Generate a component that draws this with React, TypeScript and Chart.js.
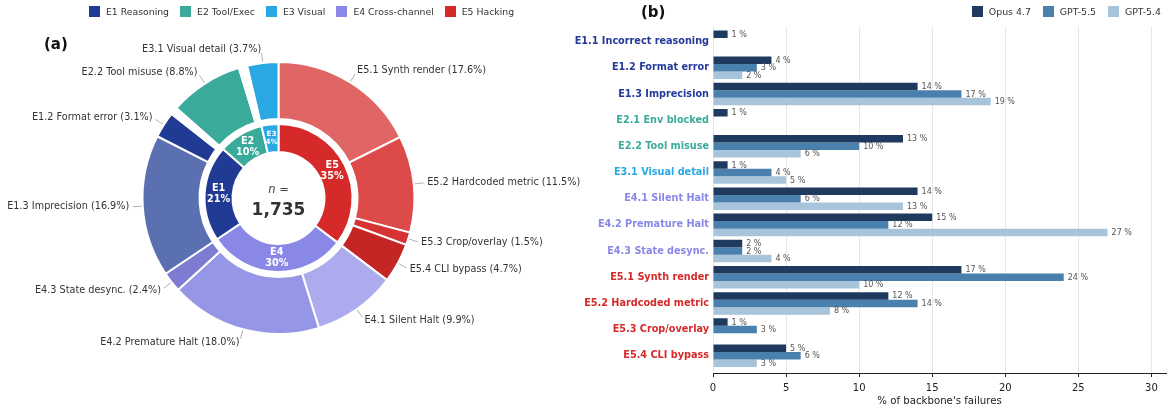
import React, { useEffect, useRef } from 'react';
import { Chart, registerables } from 'chart.js';

Chart.register(...registerables);

const FONT = "'DejaVu Sans', Verdana, sans-serif";
Chart.defaults.font.family = FONT;

// ---------- (a) donut data ----------
const innerLabels = ['E5', 'E4', 'E1', 'E2', 'E3'];
const innerValues = [35.3, 30.3, 20.9, 9.8, 3.7];
const innerColors = ['#d62a2a', '#8a88e6', '#213a93', '#3aaa9a', '#29a8e3'];

const outerLabels = [
  'E5.1 Synth render',
  'E5.2 Hardcoded metric',
  'E5.3 Crop/overlay',
  'E5.4 CLI bypass',
  'E4.1 Silent Halt',
  'E4.2 Premature Halt',
  'E4.3 State desync.',
  'E1.3 Imprecision',
  'E1.2 Format error',
  'E1.1 Incorrect reasoning',
  'E2.2 Tool misuse',
  'E2.1 Env blocked',
  'E3.1 Visual detail',
];
const outerValues = [17.6, 11.5, 1.5, 4.7, 9.9, 18.0, 2.4, 16.9, 3.1, 0.9, 8.8, 1.0, 3.7];
const outerColors = [
  '#e06666', '#dd4a4a', '#d63434', '#c42626',
  '#adabee', '#9696e6', '#7e7bd2',
  '#5b70b0', '#213a93', 'rgba(0,0,0,0)',
  '#3aaa9a', 'rgba(0,0,0,0)',
  '#29a8e3',
];
const outerUnlabeled = ['E1.1 Incorrect reasoning', 'E2.1 Env blocked'];
const totalN = 1735;

const legendCats = ['E1 Reasoning', 'E2 Tool/Exec', 'E3 Visual', 'E4 Cross-channel', 'E5 Hacking'];
const legendCatColors = ['#213a93', '#3aaa9a', '#29a8e3', '#8a88e6', '#d62a2a'];

// ---------- (b) bar data ----------
const barCategories = [
  'E1.1 Incorrect reasoning',
  'E1.2 Format error',
  'E1.3 Imprecision',
  'E2.1 Env blocked',
  'E2.2 Tool misuse',
  'E3.1 Visual detail',
  'E4.1 Silent Halt',
  'E4.2 Premature Halt',
  'E4.3 State desync.',
  'E5.1 Synth render',
  'E5.2 Hardcoded metric',
  'E5.3 Crop/overlay',
  'E5.4 CLI bypass',
];
const categoryGroup = [0, 0, 0, 1, 1, 2, 3, 3, 3, 4, 4, 4, 4];
const groupColors = ['#24399a', '#3aaa9a', '#29a8e3', '#8a88e6', '#d62a2a'];

const opus47 = [1, 4, 14, 1, 13, 1, 14, 15, 2, 17, 12, 1, 5];
const gpt55 = [null, 3, 17, null, 10, 4, 6, 12, 2, 24, 14, 3, 6];
const gpt54 = [null, 2, 19, null, 6, 5, 13, 27, 4, 10, 8, null, 3];
const seriesNames = ['Opus 4.7', 'GPT-5.5', 'GPT-5.4'];
const seriesColors = ['#1f3a5f', '#4a80ad', '#a8c4da'];
const seriesValues = [opus47, gpt55, gpt54];
const xTicks = [0, 5, 10, 15, 20, 25, 30];
const xMax = 31;

const donutLabelsPlugin = {
  id: 'donutLabels',
  afterDraw(chart: any) {
    const ctx = chart.ctx;
    ctx.save();
    // outer labels with leader lines
    const outer = chart.getDatasetMeta(0).data;
    outer.forEach((arc: any, i: number) => {
      if (outerUnlabeled.includes(outerLabels[i])) return;
      const p = arc.getProps(['x', 'y', 'startAngle', 'endAngle', 'outerRadius'], true);
      const mid = (p.startAngle + p.endAngle) / 2;
      const c = Math.cos(mid);
      const s = Math.sin(mid);
      const R = p.outerRadius - 1;
      ctx.strokeStyle = '#a0a0a0';
      ctx.lineWidth = 0.8;
      ctx.beginPath();
      ctx.moveTo(p.x + c * (R + 2), p.y + s * (R + 2));
      ctx.lineTo(p.x + c * (R + 11), p.y + s * (R + 11));
      ctx.stroke();
      const tr = R * 1.1 + 1;
      ctx.fillStyle = '#333';
      ctx.font = `9.7px ${FONT}`;
      ctx.textAlign = c >= 0 ? 'left' : 'right';
      ctx.textBaseline = 'middle';
      ctx.fillText(`${outerLabels[i]} (${outerValues[i].toFixed(1)}%)`, p.x + c * tr, p.y + s * tr);
    });
    // inner labels
    const inner = chart.getDatasetMeta(2).data;
    inner.forEach((arc: any, i: number) => {
      const p = arc.getProps(['x', 'y', 'startAngle', 'endAngle', 'innerRadius', 'outerRadius'], true);
      const mid = (p.startAngle + p.endAngle) / 2;
      const r = (p.innerRadius + p.outerRadius) / 2;
      const cx = p.x + Math.cos(mid) * r;
      const cy = p.y + Math.sin(mid) * r;
      const small = innerValues[i] < 5;
      const fs = small ? 7.2 : 9.7;
      const lh = small ? 7.6 : 11;
      ctx.fillStyle = '#ffffff';
      ctx.font = `bold ${fs}px ${FONT}`;
      ctx.textAlign = 'center';
      ctx.textBaseline = 'middle';
      ctx.fillText(innerLabels[i], cx, cy - lh / 2);
      ctx.fillText(`${Math.round(innerValues[i])}%`, cx, cy + lh / 2);
    });
    // center
    const a0 = inner[0];
    const cx = a0.x;
    const cy = a0.y;
    ctx.fillStyle = '#444';
    ctx.font = `italic 11.5px ${FONT}`;
    ctx.textAlign = 'center';
    ctx.textBaseline = 'middle';
    ctx.fillText('n =', cx, cy - 7.5);
    ctx.fillStyle = '#333';
    ctx.font = `bold 17px ${FONT}`;
    ctx.fillText(totalN.toLocaleString('en-US'), cx, cy + 12.5);
    ctx.restore();
  },
};

const barValueLabelsPlugin = {
  id: 'barValueLabels',
  afterDatasetsDraw(chart: any) {
    const ctx = chart.ctx;
    ctx.save();
    ctx.font = `8px ${FONT}`;
    ctx.fillStyle = '#555';
    ctx.textAlign = 'left';
    ctx.textBaseline = 'middle';
    chart.data.datasets.forEach((ds: any, di: number) => {
      const meta = chart.getDatasetMeta(di);
      meta.data.forEach((el: any, j: number) => {
        const d = ds.data[j];
        if (d == null || d.x == null) return;
        ctx.fillText(`${d.x} %`, el.x + 4, el.y + 0.5);
      });
    });
    ctx.restore();
  },
};

export default function App() {
  const donutRef = useRef<HTMLCanvasElement>(null);
  const barRef = useRef<HTMLCanvasElement>(null);

  useEffect(() => {
    const donut = new Chart(donutRef.current as HTMLCanvasElement, {
      type: 'doughnut',
      data: {
        labels: outerLabels,
        datasets: [
          {
            data: outerValues,
            backgroundColor: outerColors,
            borderColor: '#ffffff',
            borderWidth: 2,
            weight: 57,
          },
          {
            data: [1],
            backgroundColor: 'rgba(0,0,0,0)',
            borderWidth: 0,
            weight: 5,
          },
          {
            data: innerValues,
            backgroundColor: innerColors,
            borderColor: '#ffffff',
            borderWidth: 2,
            weight: 28,
          },
        ],
      } as any,
      options: {
        responsive: false,
        animation: false,
        radius: 136,
        cutout: `${(46 / 136) * 100}%`,
        events: [],
        layout: { padding: { left: 0, right: 43, top: 0, bottom: 16 } },
        plugins: { legend: { display: false }, tooltip: { enabled: false } },
      } as any,
      plugins: [donutLabelsPlugin],
    });

    const bar = new Chart(barRef.current as HTMLCanvasElement, {
      type: 'bar',
      data: {
        datasets: seriesNames.map((name, si) => ({
          label: name,
          data: seriesValues[si]
            .map((v, i) => ({ x: v, y: i }))
            .filter((d) => d.x !== null),
          backgroundColor: seriesColors[si],
          borderWidth: 0,
          categoryPercentage: 0.86,
          barPercentage: 1,
        })),
      } as any,
      options: {
        responsive: false,
        animation: false,
        indexAxis: 'y',
        events: [],
        layout: { padding: { left: 0, right: 3, top: 26.5, bottom: 0 } },
        plugins: { legend: { display: false }, tooltip: { enabled: false } },
        scales: {
          x: {
            type: 'linear',
            position: 'bottom',
            min: 0,
            max: xMax,
            offset: false,
            afterBuildTicks: (scale: any) => {
              scale.ticks = xTicks.map((v) => ({ value: v }));
            },
            afterFit: (scale: any) => {
              scale.height = 39;
            },
            grid: { color: '#e6e6e6', lineWidth: 1, drawTicks: true, tickLength: 4, tickColor: '#222', tickWidth: 1 },
            border: { display: true, color: '#222', width: 1 },
            ticks: { color: '#222', font: { size: 10, family: FONT }, padding: 5 },
            title: {
              display: true,
              text: "% of backbone's failures",
              color: '#222',
              font: { size: 10.2, family: FONT },
              padding: { top: 0, bottom: 5 },
            },
          },
          y: {
            type: 'linear',
            reverse: true,
            offset: false,
            min: -0.58,
            max: 12.66,
            afterBuildTicks: (scale: any) => {
              scale.ticks = barCategories.map((_, i) => ({ value: i }));
            },
            afterFit: (scale: any) => {
              scale.width = 153;
            },
            grid: { display: false, drawTicks: false, offset: false },
            border: { display: false },
            ticks: {
              autoSkip: false,
              padding: 4,
              callback: (v: any) => barCategories[v],
              color: (c: any) => groupColors[categoryGroup[c.index]],
              font: { size: 9.7, weight: 'bold', family: FONT },
            },
          },
        },
      } as any,
      plugins: [barValueLabelsPlugin],
    });

    return () => {
      donut.destroy();
      bar.destroy();
    };
  }, []);

  const sq = (color: string) => (
    <span style={{ display: 'inline-block', width: 11, height: 11, background: color, marginRight: 6 }} />
  );

  return (
    <div
      style={{
        position: 'absolute',
        left: 0,
        top: 0,
        width: 1169,
        height: 412,
        background: '#fff',
        overflow: 'hidden',
        fontFamily: FONT,
        color: '#333',
      }}
    >
      <canvas ref={donutRef} width={600} height={412} style={{ position: 'absolute', left: 0, top: 0 }} />
      <canvas ref={barRef} width={609} height={412} style={{ position: 'absolute', left: 560, top: 0 }} />
      <div style={{ position: 'absolute', left: 44, top: 35, fontSize: 15, fontWeight: 'bold', lineHeight: '18px', color: '#111' }}>
        (a)
      </div>
      <div style={{ position: 'absolute', left: 641, top: 3, fontSize: 15, fontWeight: 'bold', lineHeight: '18px', color: '#111' }}>
        (b)
      </div>
      <div
        style={{
          position: 'absolute',
          left: 89,
          top: 5,
          height: 12,
          display: 'flex',
          alignItems: 'center',
          fontSize: 9.3,
          whiteSpace: 'nowrap',
        }}
      >
        {legendCats.map((name, i) => (
          <span key={name} style={{ display: 'flex', alignItems: 'center', marginRight: 11 }}>
            {sq(legendCatColors[i])}
            {name}
          </span>
        ))}
      </div>
      <div
        style={{
          position: 'absolute',
          right: 8,
          top: 5,
          height: 12,
          display: 'flex',
          alignItems: 'center',
          fontSize: 9.4,
          whiteSpace: 'nowrap',
        }}
      >
        {seriesNames.map((name, i) => (
          <span key={name} style={{ display: 'flex', alignItems: 'center', marginLeft: i === 0 ? 0 : 12 }}>
            {sq(seriesColors[i])}
            {name}
          </span>
        ))}
      </div>
    </div>
  );
}
